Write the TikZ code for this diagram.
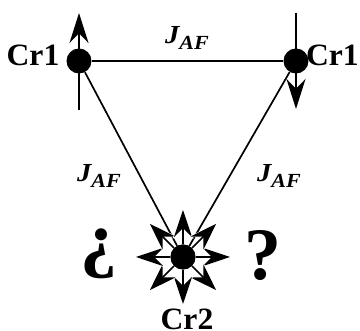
\documentclass[tikz,border=0pt]{standalone}
\usepackage{fontspec}
\setmainfont{Liberation Serif}
\usetikzlibrary{arrows.meta, positioning, calc}
\newcommand{\jaf}{J\raisebox{-0.25em}{\fontsize{20}{22}\selectfont AF}}
\tikzset{
    atom/.style={circle, fill=black, inner sep=0pt, minimum size=25pt},
    spinarrow/.style={line width=2pt, -{Stealth[length=30pt, width=19pt]}},
    label/.style={font=\fontsize{31}{33}\selectfont\bfseries, inner sep=0pt, xscale=1.02, transform shape},
    coupling/.style={font=\fontsize{26}{28}\selectfont\bfseries\itshape, inner sep=0pt, xscale=1.1, transform shape},
    qmark/.style={font=\fontsize{74}{76}\selectfont\bfseries, inner sep=0pt}
}

\begin{document}
\begin{tikzpicture}[x=1pt, y=-1pt]
        \useasboundingbox (0,0) rectangle (360,331);

        % atoms
        \node[atom] (crA) at (79,61) {};
        \node[atom] (crB) at (296,61) {};
        \node[atom] (crC) at (183,257) {};

        % bonds
        \draw[line width=1.7pt] (crA) -- (crB);
        \draw[line width=1.7pt] (crA) -- (crC);
        \draw[line width=1.7pt] (crB) -- (crC);

        % spins on Cr1
        \coordinate (upS) at (79,110);   \coordinate (upE) at (79,13);
        \coordinate (dnS) at (296,13);   \coordinate (dnE) at (296,109);
        \draw[spinarrow] (upS) -- (upE);
        \draw[spinarrow] (dnS) -- (dnE);

        % frustrated spin on Cr2
        \foreach \a in {0,45,...,315} {
            \coordinate (tip\a) at ($(crC)+(\a:47)$);
            \draw[line width=1.8pt, white, -{Stealth[length=29pt, width=21pt, open, line width=1.3pt]}] (crC) -- (tip\a);
            \draw[line width=1.7pt, -{Stealth[length=27pt, width=18pt]}] (crC) -- (tip\a);
        }
        \node[atom] at (crC) {};

        % labels
        \node[label] (lA) at (33,55) {Cr1};
        \node[label, anchor=east] (lB) at (359,55) {Cr1};
        \node[label, anchor=base] (lC) at (187,330) {Cr2};
        \node[coupling] (jTop) at (187,38) {\jaf};
        \node[coupling] (jL) at (99,176) {\jaf};
        \node[coupling] (jR) at (279,176) {\jaf};
        \node[qmark] (qL) at (99,254) {¿};
        \node[qmark] (qR) at (263,256) {?};
    \end{tikzpicture}
\end{document}
